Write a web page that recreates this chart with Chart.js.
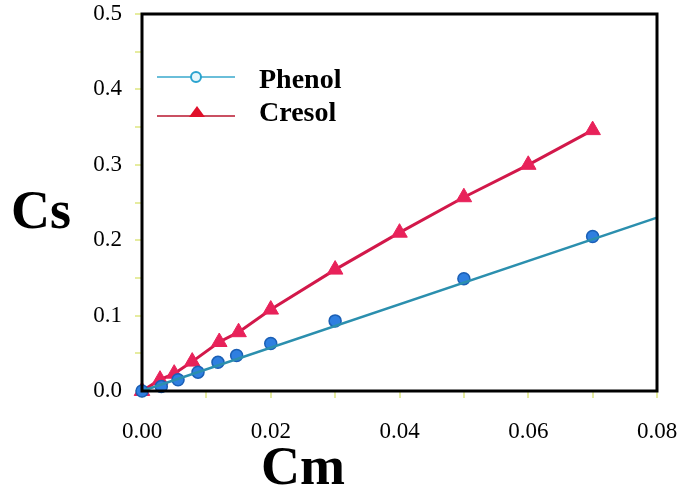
<!DOCTYPE html>
<html><head><meta charset="utf-8">
<script src="https://cdn.jsdelivr.net/npm/chart.js@4/dist/chart.umd.min.js"></script>
<style>html,body{margin:0;padding:0;background:#fff}#wrap{width:678px;height:494px}</style>
</head><body><div id="wrap"><canvas id="c" width="678" height="494"></canvas></div>
<script>
const phenolX = [0, 0.003, 0.0056, 0.0087, 0.0118, 0.0147, 0.02, 0.03, 0.05, 0.07];
const phenolY = [0, 0.006, 0.015, 0.025, 0.038, 0.047, 0.063, 0.093, 0.149, 0.205];
const phenolLineX = [0, 0.08];
const phenolLineY = [0, 0.23];
const cresolX = [0, 0.0028, 0.005, 0.0078, 0.012, 0.015, 0.02, 0.03, 0.04, 0.05, 0.06, 0.07];
const cresolY = [0, 0.015, 0.023, 0.039, 0.065, 0.078, 0.108, 0.161, 0.21, 0.257, 0.30, 0.346];
const seriesNames = ['Phenol', 'Cresol'];
const xTitle = 'Cm', yTitle = 'Cs';

const pts = (xs, ys) => xs.map((x, i) => ({x, y: ys[i]}));
const SERIF = '"Liberation Serif", "Times New Roman", serif';

const frame = {
  id: 'frame',
  afterDatasetsDraw(chart) {
    const {ctx, chartArea: a} = chart;
    ctx.save();
    ctx.strokeStyle = '#000'; ctx.lineWidth = 3;
    ctx.strokeRect(a.left, a.top, a.right - a.left, a.bottom - a.top);
    // titles
    ctx.fillStyle = '#000';
    ctx.font = 'bold 54px ' + SERIF;
    ctx.textAlign = 'center'; ctx.textBaseline = 'middle';
    ctx.fillText(yTitle, 41, 214);
    ctx.fillText(xTitle, 303, 470);
    // legend
    const items = [
      {y: 77, base: 88, line: '#38a9cc', marker: 'circle'},
      {y: 116, base: 121, line: '#b8162e', marker: 'tri'}
    ];
    items.forEach((it, i) => {
      ctx.strokeStyle = it.line; ctx.lineWidth = 1.5;
      ctx.beginPath(); ctx.moveTo(157, it.y); ctx.lineTo(235, it.y); ctx.stroke();
      if (it.marker === 'circle') {
        ctx.fillStyle = '#e6f6fb'; ctx.strokeStyle = '#2aa3cf'; ctx.lineWidth = 2;
        ctx.beginPath(); ctx.arc(196, it.y, 5, 0, Math.PI * 2); ctx.fill(); ctx.stroke();
      } else {
        ctx.fillStyle = '#e0102a';
        ctx.beginPath(); ctx.moveTo(197, it.y - 10); ctx.lineTo(205, it.y + 1); ctx.lineTo(189, it.y + 1); ctx.closePath(); ctx.fill();
      }
      ctx.fillStyle = '#000'; ctx.font = 'bold 28px ' + SERIF;
      ctx.textAlign = 'left'; ctx.textBaseline = 'alphabetic';
      ctx.fillText(seriesNames[i], 259, it.base);
    });
    ctx.restore();
  }
};

new Chart(document.getElementById('c'), {
  type: 'scatter',
  data: {
    datasets: [
      {label: 'Phenol line', data: pts(phenolLineX, phenolLineY), showLine: true, borderColor: '#2b8fae', borderWidth: 2.5, pointRadius: 0, clip: false},
      {label: seriesNames[0], data: pts(phenolX, phenolY), showLine: false, pointStyle: 'circle', pointRadius: 6, backgroundColor: '#2f7fe0', borderColor: '#1b5fb5', borderWidth: 1.5, clip: false},
      {label: seriesNames[1], data: pts(cresolX, cresolY), showLine: true, borderColor: '#d2184a', borderWidth: 3, pointStyle: 'triangle', pointRadius: 9, backgroundColor: '#e8225a', pointBorderColor: '#e8225a', pointBorderWidth: 1, clip: false}
    ]
  },
  options: {
    responsive: false, animation: false,
    layout: {padding: {top: 14, right: 21, left: 0, bottom: 0}},
    plugins: {legend: {display: false}, tooltip: {enabled: false}},
    scales: {
      x: {
        type: 'linear', min: 0, max: 0.08,
        afterFit(s) { s.height = 103; s.paddingLeft = 0; s.paddingRight = 0; },
        border: {display: false},
        grid: {drawOnChartArea: false, drawTicks: true, tickLength: 7, color: '#e6eca0', lineWidth: 2},
        ticks: {stepSize: 0.01, padding: 20, color: '#000', font: {family: SERIF, size: 23},
          callback: v => (Math.round(v * 1000) % 20 === 0) ? v.toFixed(2) : ''}
      },
      y: {
        type: 'linear', min: 0, max: 0.5,
        afterFit(s) { s.width = 142; s.paddingTop = 0; s.paddingBottom = 0; },
        border: {display: false},
        grid: {drawOnChartArea: false, drawTicks: true, tickLength: 7, color: '#e6eca0', lineWidth: 2},
        ticks: {stepSize: 0.05, padding: 13, color: '#000', font: {family: SERIF, size: 23},
          callback: v => (Math.round(v * 100) % 10 === 0) ? v.toFixed(1) : ''}
      }
    }
  },
  plugins: [frame]
});
</script></body></html>
